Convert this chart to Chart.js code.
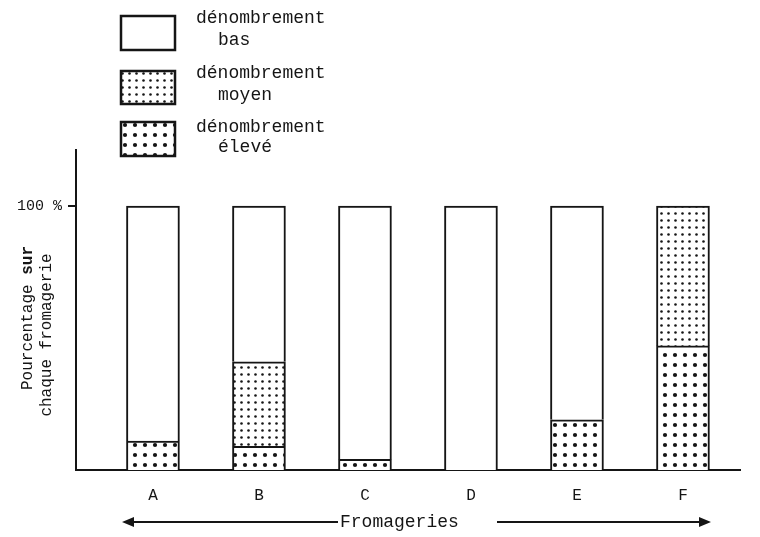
<!DOCTYPE html>
<html>
<head>
<meta charset="utf-8">
<script src="https://cdn.jsdelivr.net/npm/chart.js@4"></script>
<style>
  html, body { margin: 0; padding: 0; background: #fff; }
  #wrap { width: 760px; height: 537px; position: relative; }
</style>
</head>
<body>
<div id="wrap"><canvas id="chart" width="760" height="537"></canvas></div>
<script>
// données (% par fromagerie)
const fromageries = ["A", "B", "C", "D", "E", "F"];
const eleve = [11, 9, 4, 0, 19, 47];
const moyen = [0, 32, 0, 0, 0, 53];
const bas = [89, 59, 96, 100, 81, 0];
const yTicks = [100];
const legendLabels = [["dénombrement", "bas"], ["dénombrement", "moyen"], ["dénombrement", "élevé"]];

const INK = "#151515";
const FONT = "'Liberation Mono', 'DejaVu Sans Mono', monospace";

const canvas = document.getElementById("chart");
const ctx = canvas.getContext("2d");

// motif de points (trame)
const makeDots = (step, r) => {
  const c = document.createElement("canvas");
  c.width = step; c.height = step;
  const g = c.getContext("2d");
  g.fillStyle = "#fff";
  g.fillRect(0, 0, step, step);
  g.fillStyle = INK;
  g.beginPath();
  g.arc(step / 2, step / 2, r, 0, Math.PI * 2);
  g.fill();
  return ctx.createPattern(c, "repeat");
};
const fills = ["#fff", makeDots(7, 1.3), makeDots(10, 2.1)];

const toPoints = (arr) => arr.map((v, i) => ({ x: i, y: v }));

// légende, titre vertical et flèche du bas
const decorations = {
  id: "decorations",
  afterDraw(chart) {
    const c = chart.ctx;
    c.save();
    c.fillStyle = INK;
    c.strokeStyle = INK;

    // légende
    const boxes = [[121, 16, 54, 34], [121, 71, 54, 33], [121, 122, 54, 34]];
    const lines = [[18, 40], [73, 95], [127, 147]];
    boxes.forEach((b, k) => {
      c.fillStyle = fills[k];
      c.fillRect(b[0], b[1], b[2], b[3]);
      c.lineWidth = 2.5;
      c.strokeRect(b[0], b[1], b[2], b[3]);
      c.fillStyle = INK;
      c.font = "18px " + FONT;
      c.textBaseline = "middle";
      c.textAlign = "left";
      c.fillText(legendLabels[k][0], 196, lines[k][0]);
      c.fillText(legendLabels[k][1], 218, lines[k][1]);
    });

    // titre de l'axe vertical
    const drawVertical = (x, y, parts) => {
      c.save();
      c.translate(x, y);
      c.rotate(-Math.PI / 2);
      c.textBaseline = "middle";
      c.textAlign = "left";
      let total = 0;
      parts.forEach((p) => { c.font = p[1] + "16px " + FONT; total += c.measureText(p[0]).width; });
      let pos = -total / 2;
      parts.forEach((p) => {
        c.font = p[1] + "16px " + FONT;
        c.fillText(p[0], pos, 0);
        pos += c.measureText(p[0]).width;
      });
      c.restore();
    };
    drawVertical(28, 318, [["Pourcentage ", ""], ["sur", "bold "]]);
    drawVertical(47, 335, [["chaque fromagerie", ""]]);

    // flèche "Fromageries"
    const y = 522;
    c.lineWidth = 2;
    c.beginPath();
    c.moveTo(125, y); c.lineTo(338, y);
    c.moveTo(497, y); c.lineTo(708, y);
    c.stroke();
    c.beginPath();
    c.moveTo(122, y); c.lineTo(134, y - 5); c.lineTo(134, y + 5); c.closePath();
    c.moveTo(711, y); c.lineTo(699, y - 5); c.lineTo(699, y + 5); c.closePath();
    c.fill();
    c.font = "18px " + FONT;
    c.textAlign = "left";
    c.textBaseline = "middle";
    c.fillText("Fromageries", 340, y);
    c.restore();
  }
};

const barStyle = (label, data, fill) => ({
  label,
  data: toPoints(data),
  backgroundColor: fill,
  borderColor: INK,
  borderWidth: 2,
  barThickness: 53,
});

new Chart(canvas, {
  type: "bar",
  data: {
    datasets: [
      barStyle("dénombrement élevé", eleve, fills[2]),
      barStyle("dénombrement moyen", moyen, fills[1]),
      barStyle("dénombrement bas", bas, fills[0]),
    ],
  },
  options: {
    responsive: false,
    animation: false,
    layout: { padding: { top: 150, right: 20, left: 0, bottom: 0 } },
    plugins: {
      legend: { display: false },
      tooltip: { enabled: false },
    },
    scales: {
      x: {
        type: "linear",
        stacked: true,
        offset: false,
        min: -0.726,
        max: 5.538,
        afterBuildTicks: (s) => { s.ticks = fromageries.map((_, i) => ({ value: i })); },
        afterFit: (s) => { s.height = 67; },
        grid: { display: false, offset: false },
        border: { display: true, color: INK, width: 2 },
        ticks: {
          padding: 8,
          color: INK,
          font: { family: FONT, size: 16 },
          callback: (v) => fromageries[v],
        },
      },
      y: {
        stacked: true,
        min: 0,
        max: 121.2,
        afterBuildTicks: (s) => { s.ticks = yTicks.map((v) => ({ value: v })); },
        afterFit: (s) => { s.width = 76; },
        grid: { drawOnChartArea: false, drawTicks: true, tickLength: 8, color: INK, lineWidth: 2 },
        border: { display: true, color: INK, width: 2 },
        ticks: {
          padding: 6,
          color: INK,
          font: { family: FONT, size: 15 },
          callback: (v) => v + " %",
        },
      },
    },
  },
  plugins: [decorations],
});
</script>
</body>
</html>
